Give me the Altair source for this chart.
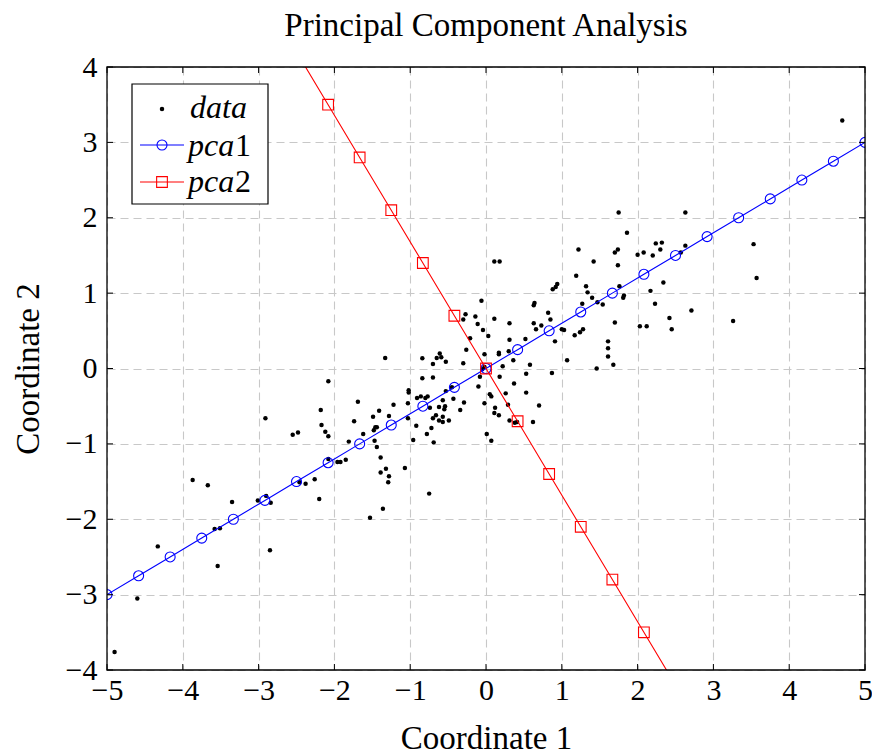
import altair as alt
import pandas as pd

# ---- scattered data ----
data_x = [-2.91, -3.87, -3.67, -3.35, -3.01, -2.90, -3.58, -3.51, -4.33, -3.54, -2.85, -4.60, -4.90,
          -1.33, -0.84, -2.08, -0.84, -1.02, -1.02, -0.91, -0.86, -0.80, -0.77, -1.69, -1.22, -1.03,
          -2.18, -1.41, -1.49, -1.28, -1.74, -1.03, -2.17, -1.46, -1.44, -1.48, -2.12, -2.08, -2.55,
          -2.48, -1.62, -0.92, -0.78, -1.81, -1.47, -1.44, -0.96, -1.39, -1.96, -1.92, -1.85, -2.08,
          -1.32, -1.07, -1.39, -1.28, -1.29, -2.26, -2.46, -2.38, -2.20, -0.75, -2.84, -1.36, -1.53,
          0.11, 0.18, 1.22, 1.19, 0.94, 0.92, 0.88, 1.32, 1.34, -0.06, 0.64, 0.63, 1.27, -0.27, -0.30,
          -0.14, -0.11, 0.11, 0.82, 0.85, 0.31, 0.63, 0.73, 0.66, 1.00, 1.03, 1.28, 1.24, 1.17, -0.04,
          0.03, -0.21, -0.26, 0.31, 0.52, 0.91, 0.30, 0.17, 0.17, 0.36, -0.02, -0.65, -0.61, -0.59,
          -0.53, -0.70, -0.30, 0.22, 0.58, 0.53, 1.07, 0.87, -0.05, -0.08, -0.70, 0.18, -0.02,
          -0.10, 0.37, -0.45, -0.53, 0.05, 0.07, 0.26, 0.53, -0.57, -0.43, -0.29, -0.02, -0.74, -0.62,
          -0.54, -0.55, 0.29, 0.70, 0.12, -0.34, 0.11, 0.17, -0.66, -0.57, -0.70, -0.62, -0.57, -0.49,
          0.31, 0.38, 0.41, 0.62, -0.72, -0.69, 0.01, 0.07,
          1.75, 2.63, 1.86, 2.24, 2.32, 2.30, 2.63, 1.74, 1.70, 2.00, 2.08, 2.20, 2.57, 1.42, 1.74,
          2.34, 1.76, 1.40, 1.82, 1.81, 2.17, 1.47, 1.54, 2.23, 2.71, 2.42, 2.45, 2.03, 2.12, 3.26,
          1.70, 1.61, 1.61, 1.61, 1.68, 1.46,
          4.70, 3.53, 3.57]
data_y = [-0.66, -1.48, -1.55, -1.77, -1.75, -1.69, -2.13, -2.12, -2.36, -2.62, -2.41, -3.05, -3.76,
          0.14, 0.135, -0.17, -0.13, -0.29, -0.32, -0.39, -0.37, -0.39, -0.37, -0.44, -0.48, -0.46,
          -0.55, -0.56, -0.64, -0.63, -0.70, -0.66, -0.75, -0.78, -0.78, -0.82, -0.84, -0.90, -0.88,
          -0.85, -0.87, -0.76, -0.87, -0.97, -0.96, -1.04, -0.95, -1.18, -1.24, -1.24, -1.21, -1.20,
          -1.33, -1.32, -1.38, -1.43, -1.51, -1.47, -1.51, -1.53, -1.73, -1.66, -1.78, -1.86, -1.98,
          1.42, 1.42, 1.58, 1.23, 1.12, 1.08, 1.05, 1.09, 1.01, 0.90, 0.87, 0.84, 0.86, 0.72, 0.65,
          0.69, 0.59, 0.66, 0.74, 0.65, 0.60, 0.60, 0.57, 0.52, 0.52, 0.51, 0.52, 0.48, 0.44, 0.51,
          0.43, 0.40, 0.25, 0.38, 0.39, 0.36, 0.23, 0.21, 0.19, 0.11, 0.19, 0.14, 0.20, 0.15,
          0.09, 0.06, 0.07, 0.03, 0.05, -0.07, 0.11, -0.06, -0.01, -0.11, -0.12, -0.11, 0.02,
          -0.24, -0.20, -0.25, -0.30, -0.34, -0.37, -0.33, -0.32, -0.42, -0.40, -0.45, -0.46, -0.52, -0.51,
          -0.50, -0.54, -0.48, -0.49, -0.52, -0.55, -0.59, -0.62, -0.62, -0.64, -0.66, -0.69, -0.71, -0.69,
          -0.69, -0.72, -0.71, -0.71, -0.79, -0.98, -0.87, -0.96,
          2.07, 2.07, 1.80, 1.66, 1.67, 1.58, 1.63, 1.58, 1.54, 1.51, 1.54, 1.50, 1.54, 1.42, 1.37,
          1.14, 1.09, 0.94, 0.97, 0.94, 1.03, 0.88, 0.85, 0.86, 0.77, 0.67, 0.52, 0.56, 0.56, 0.63,
          0.61, 0.36, 0.27, 0.16, 0.05, 0.00,
          3.29, 1.65, 1.20]

# ---- principal component lines ----
pca_x = [-5.0, -4.583, -4.167, -3.75, -3.333, -2.917, -2.5, -2.083, -1.667, -1.25, -0.833, -0.417,
         0.0, 0.417, 0.833, 1.25, 1.667, 2.083, 2.5, 2.917, 3.333, 3.75, 4.167, 4.583, 5.0]
pca1_y = [-3.0, -2.75, -2.5, -2.25, -2.0, -1.75, -1.5, -1.25, -1.0, -0.75, -0.5, -0.25,
          0.0, 0.25, 0.5, 0.75, 1.0, 1.25, 1.5, 1.75, 2.0, 2.25, 2.5, 2.75, 3.0]
pca2_y = [8.4, 7.7, 7.0, 6.3, 5.6, 4.9, 4.2, 3.5, 2.8, 2.1, 1.4, 0.7,
          0.0, -0.7, -1.4, -2.1, -2.8, -3.5, -4.2, -4.9, -5.6, -6.3, -7.0, -7.7, -8.4]

x_ticks = [-5, -4, -3, -2, -1, 0, 1, 2, 3, 4, 5]
y_ticks = [-4, -3, -2, -1, 0, 1, 2, 3, 4]

title_text = "Principal Component Analysis"
x_title = "Coordinate 1"
y_title = "Coordinate 2"

W, H = 758, 603
FONT = "Liberation Serif"
BLUE = "#0000ff"
RED = "#ff0000"

xs = alt.Scale(domain=[-5, 5], nice=False, zero=False)
ys = alt.Scale(domain=[-4, 4], nice=False, zero=False)

df_data = pd.DataFrame({"x": data_x, "y": data_y})
df_p1 = pd.DataFrame({"x": pca_x, "y": pca1_y})
df_p2 = pd.DataFrame({"x": pca_x, "y": pca2_y})
df_xt = pd.DataFrame({"x": x_ticks})
df_yt = pd.DataFrame({"y": y_ticks})
one = pd.DataFrame({"a": [0]})

x_axis = alt.Axis(values=x_ticks, title=x_title, grid=True, gridDash=[8, 5], gridColor="#c8c8c8",
                  gridWidth=1.1, domain=False, ticks=False, tickSize=0, labelFont=FONT,
                  labelFontSize=30, labelColor="black", labelPadding=5, labelFlush=False,
                  titleFont=FONT, titleFontSize=33, titleFontWeight="normal", titleColor="black",
                  titlePadding=17)
y_axis = alt.Axis(values=y_ticks, title=y_title, grid=True, gridDash=[8, 5], gridColor="#c8c8c8",
                  gridWidth=1.1, domain=False, ticks=False, tickSize=0, labelFont=FONT,
                  labelFontSize=30, labelColor="black", labelPadding=10, labelFlush=False,
                  titleFont=FONT, titleFontSize=33, titleFontWeight="normal", titleColor="black",
                  titlePadding=20)

X = alt.X("x:Q", scale=xs, axis=x_axis)
Y = alt.Y("y:Q", scale=ys, axis=y_axis)

points = alt.Chart(df_data).mark_circle(color="black", opacity=1, size=20, clip=True).encode(x=X, y=Y)

def pca_layers(df, color, shape, size):
    line = alt.Chart(df).mark_line(color=color, strokeWidth=1.1, clip=True).encode(x=X, y=Y)
    marks = alt.Chart(df).mark_point(shape=shape, color=color, filled=False, size=size,
                                     strokeWidth=1.1, opacity=1, clip=True).encode(x=X, y=Y)
    return [line, marks]

p1 = pca_layers(df_p1, BLUE, "circle", 100)
p2 = pca_layers(df_p2, RED, "square", 115)

TL = 6
ticks = [
    alt.Chart(df_xt).mark_rule(color="black", strokeWidth=1).encode(
        x=X, y=alt.value(H), y2=alt.value(H - TL)),
    alt.Chart(df_xt).mark_rule(color="black", strokeWidth=1).encode(
        x=X, y=alt.value(0), y2=alt.value(TL)),
    alt.Chart(df_yt).mark_rule(color="black", strokeWidth=1).encode(
        y=Y, x=alt.value(0), x2=alt.value(TL)),
    alt.Chart(df_yt).mark_rule(color="black", strokeWidth=1).encode(
        y=Y, x=alt.value(W), x2=alt.value(W - TL)),
]

frame = alt.Chart(one).mark_rect(fill=None, stroke="black", strokeWidth=1.3).encode(
    x=alt.value(0), x2=alt.value(W), y=alt.value(0), y2=alt.value(H))

# ---- legend (pgfplots style box) ----
LX0, LY0, LX1, LY1 = 25, 17, 161, 137
legend = [
    alt.Chart(one).mark_rect(fill="white", stroke="black", strokeWidth=1.2).encode(
        x=alt.value(LX0), x2=alt.value(LX1), y=alt.value(LY0), y2=alt.value(LY1)),
    alt.Chart(one).mark_circle(color="black", opacity=1, size=20).encode(
        x=alt.value(55), y=alt.value(42)),
    alt.Chart(one).mark_rule(color=BLUE, strokeWidth=1.1).encode(
        x=alt.value(33), x2=alt.value(77), y=alt.value(78)),
    alt.Chart(one).mark_point(shape="circle", color=BLUE, filled=False, size=100,
                              strokeWidth=1.1, opacity=1).encode(x=alt.value(55), y=alt.value(78)),
    alt.Chart(one).mark_rule(color=RED, strokeWidth=1.1).encode(
        x=alt.value(33), x2=alt.value(77), y=alt.value(115)),
    alt.Chart(one).mark_point(shape="square", color=RED, filled=False, size=115,
                              strokeWidth=1.1, opacity=1).encode(x=alt.value(55), y=alt.value(115)),
]
legend_texts = [("data", 51, "italic", 83), ("pca", 89, "italic", 81), ("1", 89, "normal", 128),
                ("pca", 125, "italic", 81), ("2", 125, "normal", 128)]
for txt, yb, style, xl in legend_texts:
    legend.append(alt.Chart(one).mark_text(text=txt, font=FONT, fontSize=32, fontStyle=style,
                                           align="left", baseline="alphabetic", color="black").encode(
        x=alt.value(xl), y=alt.value(yb)))

chart = alt.layer(points, *p1, *p2, *ticks, frame, *legend).properties(
    width=W, height=H,
    title=alt.TitleParams(title_text, font=FONT, fontSize=33, fontWeight="normal", anchor="middle",
                          color="black", offset=9),
    autosize=alt.AutoSizeParams(type="none"),
    padding={"left": 107, "top": 67, "right": 7, "bottom": 84},
).configure_view(stroke=None)

chart.save("out.html", embed_options={"renderer": "svg", "actions": False})
